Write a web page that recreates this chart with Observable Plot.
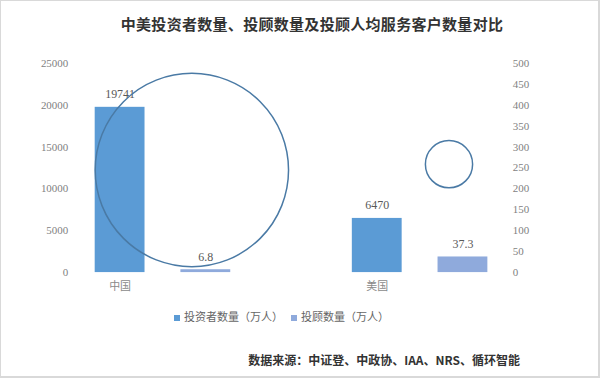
<!DOCTYPE html>
<html>
<head>
<meta charset="utf-8">
<script src="https://cdn.jsdelivr.net/npm/d3@7"></script>
<script src="https://cdn.jsdelivr.net/npm/@observablehq/plot@0.6"></script>
<style>
  body { margin: 0; background: #fff; }
  #wrap { position: relative; width: 600px; height: 378px; box-sizing: border-box; border: 2px solid #d9d9d9; border-left-width: 1px; border-top-width: 1px; overflow: hidden; font-family: "Liberation Serif", "Noto Sans CJK SC", serif; }
  #chart { position: absolute; left: -1px; top: -1px; }
  #title { position: absolute; left: 111px; width: 400px; top: 12px; text-align: center; font-family: "Noto Sans CJK SC", sans-serif; font-weight: bold; font-size: 15px; color: #333; letter-spacing: 0.3px; }
  #legend { position: absolute; left: 173px; top: 307px; font-family: "Noto Sans CJK SC", sans-serif; font-size: 11px; color: #666; display: flex; gap: 8px; align-items: center; }
  #legend span.sw { display: inline-block; width: 6px; height: 6px; margin-right: 4px; vertical-align: middle; }
  #source { position: absolute; right: 78px; top: 350px; font-family: "Noto Sans CJK SC", sans-serif; font-weight: bold; font-size: 12px; color: #333; }
</style>
</head>
<body>
<div id="wrap">
  <div id="title"></div>
  <div id="chart"></div>
  <div id="legend"></div>
  <div id="source"></div>
</div>
<script>
const titleText = "中美投资者数量、投顾数量及投顾人均服务客户数量对比";
const sourceText = "数据来源：中证登、中政协、IAA、NRS、循环智能";
const countries = ["中国", "美国"];
const seriesNames = ["投资者数量（万人）", "投顾数量（万人）"];
const investors = [19741, 6470];
const advisors = [6.8, 37.3];
const clientsPerAdvisor = [2903, 173];   // bubble size
const bubbleY = [245, 259];              // bubble position on right axis
const leftTicks = [0, 5000, 10000, 15000, 20000, 25000];
const rightTicks = [0, 50, 100, 150, 200, 250, 300, 350, 400, 450, 500];
const colors = ["#5b9bd5", "#8faadc"];

const leftMax = 25000, rightMax = 500, ratio = leftMax / rightMax;

const rows = [];
countries.forEach((c, i) => {
  rows.push({country: c, series: seriesNames[0], value: investors[i], y: investors[i]});
  rows.push({country: c, series: seriesNames[1], value: advisors[i], y: advisors[i] * ratio});
});
const bubbles = countries.map((c, i) => ({country: c, series: seriesNames[1], n: clientsPerAdvisor[i], y: bubbleY[i] * ratio}));
const cats = countries.map(c => ({country: c, series: seriesNames[0]}));

const numFont = "Liberation Serif, Noto Sans CJK SC, serif";

const plot = Plot.plot({
  width: 600,
  height: 378,
  marginTop: 63,
  marginBottom: 105,
  marginLeft: 95,
  marginRight: 111,
  style: {fontFamily: numFont, fontSize: "11px", color: "#7f7f7f", background: "transparent"},
  fx: {domain: countries, paddingInner: 122 / 258, paddingOuter: 0, axis: null, label: null},
  x: {domain: seriesNames, paddingInner: 36 / 86, paddingOuter: 0, axis: null, label: null},
  y: {domain: [0, leftMax], axis: null, label: null},
  r: {range: [0, 97]},
  color: {domain: seriesNames, range: colors},
  marks: [
    Plot.barY(rows, {fx: "country", x: "series", y: "y", fill: "series"}),
    Plot.text(rows, {fx: "country", x: "series", y: "y", text: d => String(d.value), dy: -13, fill: "#595959", fontSize: 12, fontFamily: numFont}),
    Plot.dot(bubbles, {fx: "country", x: "series", y: "y", r: "n", dx: -14, stroke: "#4a7aa5", strokeWidth: 1.5, fill: "none"}),
    Plot.text(cats, {fx: "country", x: "series", text: "country", frameAnchor: "bottom", dy: 17, fill: "#8a8a8a", fontSize: 11, fontFamily: "Noto Sans CJK SC, sans-serif"}),
    Plot.axisY({anchor: "left", label: null, ticks: leftTicks, tickSize: 0, tickPadding: 27, tickFormat: d => String(d), fill: "#7f7f7f", fontSize: 11}),
    Plot.axisY({anchor: "right", label: null, ticks: rightTicks.map(t => t * ratio), tickSize: 0, tickPadding: 25, tickFormat: d => String(d / ratio), fill: "#7f7f7f", fontSize: 11})
  ]
});
document.getElementById("chart").appendChild(plot);
document.getElementById("title").textContent = titleText;
document.getElementById("source").textContent = sourceText;
const lg = document.getElementById("legend");
seriesNames.forEach((s, i) => {
  const item = document.createElement("div");
  item.innerHTML = `<span class="sw" style="background:${colors[i]}"></span>${s}`;
  lg.appendChild(item);
});
</script>
</body>
</html>
